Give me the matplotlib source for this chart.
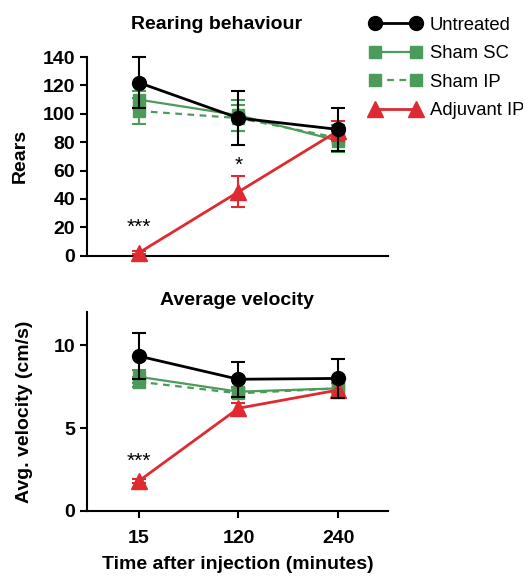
import matplotlib
matplotlib.use("Agg")
import matplotlib.pyplot as plt

plt.rcParams["font.family"] = ["Liberation Sans", "DejaVu Sans"]

# --- data ------------------------------------------------------------
times = ["15", "120", "240"]
groups = ["Untreated", "Sham SC", "Sham IP", "Adjuvant IP"]

rears_mean = {
    "Untreated":   [122, 97, 89],
    "Sham SC":     [110, 99, 81],
    "Sham IP":     [102, 97, 83],
    "Adjuvant IP": [2, 45, 88],
}
rears_err = {
    "Untreated":   [18, 19, 15],
    "Sham SC":     [6, 11, 8],
    "Sham IP":     [9, 9, 9],
    "Adjuvant IP": [1, 11, 7],
}
vel_mean = {
    "Untreated":   [9.35, 7.95, 8.0],
    "Sham SC":     [8.1, 7.2, 7.4],
    "Sham IP":     [7.8, 7.1, 7.4],
    "Adjuvant IP": [1.8, 6.2, 7.3],
}
vel_err = {
    "Untreated":   [1.4, 1.05, 1.2],
    "Sham SC":     [0.4, 0.3, 0.3],
    "Sham IP":     [0.3, 0.3, 0.3],
    "Adjuvant IP": [0.1, 0.3, 0.4],
}

GREEN = "#4b9b5b"
RED = "#de2a30"
style = {
    "Untreated":   dict(color="black", marker="o", ms=10, ls="-", lw=2.0, z=5),
    "Sham SC":     dict(color=GREEN, marker="s", ms=9, ls="-", lw=1.6, z=3),
    "Sham IP":     dict(color=GREEN, marker="s", ms=9, ls=(0, (3, 2.5)), lw=1.6, z=2),
    "Adjuvant IP": dict(color=RED, marker="^", ms=11, ls="-", lw=2.0, z=4),
}
x = list(range(len(times)))

fig = plt.figure(figsize=(5.23, 5.76), dpi=100)
ax1 = fig.add_axes([0.166, 0.556, 0.576, 0.345])
ax2 = fig.add_axes([0.166, 0.113, 0.576, 0.345])


def draw(ax, means, errs):
    handles = {}
    for g in groups:
        s = style[g]
        eb = ax.errorbar(x, means[g], yerr=errs[g], color=s["color"],
                         marker=s["marker"], markersize=s["ms"], ls=s["ls"],
                         lw=s["lw"], elinewidth=1.5, capsize=5, capthick=1.5,
                         zorder=s["z"], clip_on=False)
        handles[g] = eb[0]
    return handles


h = draw(ax1, rears_mean, rears_err)
draw(ax2, vel_mean, vel_err)

for ax in (ax1, ax2):
    ax.spines["top"].set_visible(False)
    ax.spines["right"].set_visible(False)
    ax.spines["left"].set_linewidth(1.5)
    ax.spines["bottom"].set_linewidth(1.5)
    ax.set_xlim(-0.52, 2.5)
    ax.tick_params(width=1.5, length=5, labelsize=14)

ax1.set_ylim(0, 140)
ax1.set_yticks(range(0, 141, 20))
ax1.set_xticks([])
ax1.set_ylabel("Rears", fontsize=14, fontweight="bold", labelpad=10)
ax1.set_title("Rearing behaviour", fontsize=14, fontweight="bold", x=0.43, pad=20)
for lab in ax1.get_yticklabels():
    lab.set_fontweight("bold")

ax2.set_ylim(0, 12)
ax2.set_yticks([0, 5, 10])
ax2.set_xticks(x)
ax2.set_xticklabels(times, fontsize=14, fontweight="bold")
for lab in ax2.get_yticklabels():
    lab.set_fontweight("bold")
ax2.tick_params(axis="x", pad=9)
ax2.set_ylabel("Avg. velocity (cm/s)", fontsize=14, fontweight="bold", labelpad=15)
ax2.set_xlabel("Time after injection (minutes)", fontsize=14, fontweight="bold", labelpad=6)
ax2.set_title("Average velocity", fontsize=14, fontweight="bold", pad=5)

# significance marks
ax1.text(0, 20, "***", ha="center", va="center", fontsize=15)
ax1.text(1, 64, "*", ha="center", va="center", fontsize=15)
ax2.text(0, 3.0, "***", ha="center", va="center", fontsize=15)

fig.legend([h[g] for g in groups], groups, loc="upper left",
           bbox_to_anchor=(0.675, 1.0), frameon=False, numpoints=2,
           handlelength=2.8, handletextpad=0.45, labelspacing=0.62,
           fontsize=13.3)

fig.savefig("out.png", dpi=100)
